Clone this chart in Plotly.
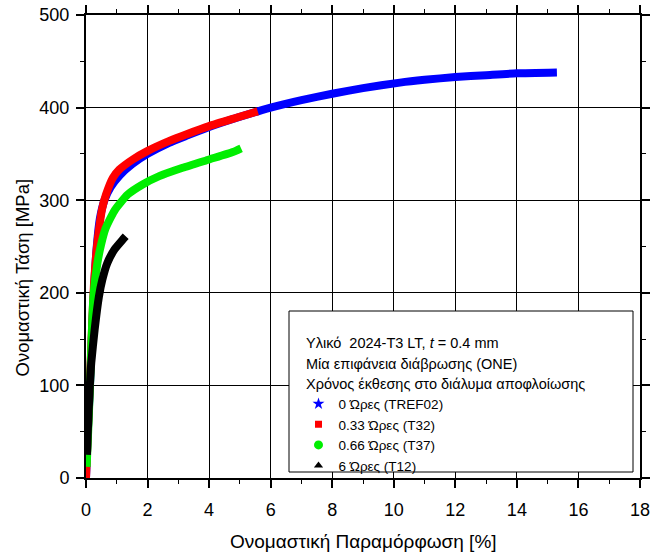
import plotly.graph_objects as go

# ---- data ----
blue_x = [0, 0.06, 0.13, 0.2, 0.27, 0.35, 0.45, 0.6, 0.8, 1.1, 1.5, 2.0, 2.7, 3.3, 4.0, 4.9,
          6.0, 7.0, 8.0, 9.0, 10.2, 11.0, 12.0, 13.0, 14.0, 15.3]
blue_y = [0, 50, 100, 160, 210, 250, 280, 300, 314, 327, 339, 350, 362, 370, 379, 389,
          400, 408, 415, 421, 427, 430, 433, 435, 437, 438]

red_x = [0, 0.06, 0.12, 0.2, 0.26, 0.34, 0.42, 0.52, 0.65, 0.87, 1.08, 1.52, 1.99, 2.71,
         3.25, 4.0, 4.88, 5.58]
red_y = [0, 50, 100, 165, 210, 245, 268, 290, 306, 324, 333, 344, 353, 364,
         371, 380, 389, 396]

green_x = [0.02, 0.07, 0.13, 0.24, 0.37, 0.49, 0.63, 0.8, 0.95, 1.35, 1.84, 2.38, 3.14,
           4.0, 4.77, 5.04]
green_y = [12, 50, 100, 196, 232, 252, 269, 281, 290, 306, 317, 326, 335,
           344, 352, 356]

black_x = [0.03, 0.07, 0.13, 0.17, 0.28, 0.42, 0.53, 0.69, 0.93, 1.18, 1.29]
black_y = [25, 60, 103, 124, 160, 196, 214, 232, 247, 257, 261]

series_names = ["0 Ώρες (TREF02)", "0.33 Ώρες (T32)", "0.66 Ώρες (T37)", "6 Ώρες (T12)"]
series_colors = ["#0000ff", "#ff0000", "#00ee00", "#000000"]
series_symbols = ["star", "square", "circle", "triangle-up"]
series_sizes = [9, 7, 9, 8]

header_lines = ["Υλικό  2024-T3 LT, <i>t</i> = 0.4 mm",
                "Μία επιφάνεια διάβρωσης (ONE)",
                "Χρόνος έκθεσης στο διάλυμα αποφλοίωσης"]

x_title = "Ονομαστική Παραμόρφωση [%]"
y_title = "Ονομαστική Τάση [MPa]"

FONT = "Arial, 'Liberation Sans', sans-serif"

fig = go.Figure()
all_x = [blue_x, red_x, green_x, black_x]
all_y = [blue_y, red_y, green_y, black_y]
for xs, ys, col in zip(all_x, all_y, series_colors):
    fig.add_trace(go.Scatter(x=xs, y=ys, mode="lines",
                             line=dict(color=col, width=8, shape="spline", smoothing=0.5),
                             showlegend=False, hoverinfo="skip"))
for name, col, sym, sz in zip(series_names, series_colors, series_symbols, series_sizes):
    fig.add_trace(go.Scatter(x=[None], y=[None], mode="markers", name=name,
                             marker=dict(color=col, symbol=sym, size=sz)))

W, H = 651, 556
ML, MR, MT, MB = 86, 11, 15, 78
pw = W - ML - MR
ph = H - MT - MB

def px_x(p):
    return (p - ML) / pw

def px_y(p):
    return (H - MB - p) / ph

axis_common = dict(
    showgrid=True, gridcolor="black", gridwidth=1,
    showline=True, linecolor="black", linewidth=2, mirror="allticks",
    ticks="outside", ticklen=8, tickwidth=1.5, tickcolor="black",
    tickfont=dict(family=FONT, size=18, color="black"),
    zeroline=False, automargin=False,
)

fig.update_xaxes(range=[0, 18], tick0=0, dtick=2, ticklabelstandoff=6,
                 minor=dict(dtick=1, ticks="outside", ticklen=4, tickwidth=1, tickcolor="black", showgrid=False),
                 **axis_common)
fig.update_yaxes(range=[0, 500], tick0=0, dtick=100, ticklabelstandoff=3,
                 minor=dict(dtick=50, ticks="outside", ticklen=4, tickwidth=1, tickcolor="black", showgrid=False),
                 **axis_common)

# legend box
fig.add_shape(type="rect", xref="paper", yref="paper",
              x0=px_x(289), x1=px_x(633), y0=px_y(472), y1=px_y(311),
              line=dict(color="black", width=1), fillcolor="white", layer="above")

annotations = []
for txt, yy in zip(header_lines, [343, 363.5, 384]):
    annotations.append(dict(text=txt, x=px_x(304), y=px_y(yy), xref="paper", yref="paper",
                            xanchor="left", yanchor="middle", showarrow=False,
                            font=dict(family=FONT, size=14.5, color="black")))
annotations.append(dict(text=x_title, x=px_x(363), y=px_y(541), xref="paper", yref="paper",
                        xanchor="center", yanchor="middle", showarrow=False,
                        font=dict(family=FONT, size=19, color="black")))
annotations.append(dict(text=y_title, x=px_x(22), y=px_y(277.5), xref="paper", yref="paper",
                        xanchor="center", yanchor="middle", showarrow=False, textangle=-90,
                        font=dict(family=FONT, size=18.5, color="black")))

fig.update_layout(
    width=W, height=H, autosize=False,
    margin=dict(l=ML, r=MR, t=MT, b=MB, pad=0),
    paper_bgcolor="white", plot_bgcolor="white",
    font=dict(family=FONT, color="black"),
    annotations=annotations,
    legend=dict(x=px_x(298.5), y=px_y(388.5), xanchor="left", yanchor="top",
                bgcolor="rgba(0,0,0,0)", borderwidth=0,
                font=dict(family=FONT, size=13.5, color="black"),
                tracegroupgap=0, itemsizing="trace"),
)

fig.write_html("out.html")
